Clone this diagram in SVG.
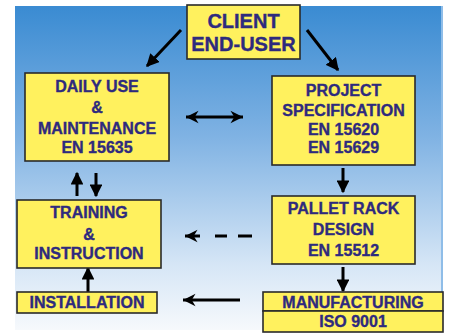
<svg xmlns="http://www.w3.org/2000/svg" width="449" height="334" viewBox="0 0 449 334">
<style>
.box{fill:#fff15e;stroke:#2a2a2a;stroke-width:1.6}
.t{font-family:"Liberation Sans",Arial,sans-serif;font-weight:bold;font-size:16px;fill:#2e2a7e;stroke:#2e2a7e;stroke-width:0.35;text-anchor:middle}
.big{font-size:20px}
.ln{stroke:#000;stroke-width:3;fill:none}
</style>
<defs>
<linearGradient id="bg" x1="0" y1="0" x2="0" y2="1">
<stop offset="0" stop-color="#3a8bd2"/>
<stop offset="0.4" stop-color="#7fb2e3"/>
<stop offset="0.8" stop-color="#d6e6f6"/>
<stop offset="1" stop-color="#f6f9fc"/>
</linearGradient>
<marker id="tri" viewBox="0 0 10 10" refX="9" refY="5" markerWidth="4.3" markerHeight="4.3" orient="auto" markerUnits="strokeWidth">
<path d="M0,0 L10,5 L0,10 z" fill="#000"/>
</marker>
<marker id="chev" viewBox="0 0 12 12" refX="11" refY="6" markerWidth="5" markerHeight="5" orient="auto-start-reverse" markerUnits="strokeWidth">
<path d="M1,1 L11,6 L1,11 L4,6 z" fill="#000"/>
</marker>
</defs>
<rect x="15" y="6" width="428" height="324" fill="url(#bg)"/>
<rect x="441" y="6" width="2" height="324" fill="#8fbde8"/>

<g id="connectors">
<line class="ln" x1="181" y1="30" x2="147" y2="66" marker-end="url(#tri)"/>
<line class="ln" x1="307" y1="30" x2="338" y2="70" marker-end="url(#tri)"/>
<line class="ln" x1="186" y1="117" x2="243" y2="117" marker-start="url(#chev)" marker-end="url(#chev)"/>
<line class="ln" x1="343" y1="168" x2="343" y2="192" marker-end="url(#tri)"/>
<line class="ln" x1="343" y1="267" x2="343" y2="291" marker-end="url(#tri)"/>
<line class="ln" x1="200" y1="236" x2="185" y2="236" marker-end="url(#chev)"/>
<line class="ln" x1="215" y1="236" x2="227" y2="236"/>
<line class="ln" x1="238" y1="236" x2="252" y2="236"/>
<line class="ln" x1="240" y1="300" x2="183" y2="300" marker-end="url(#chev)"/>
<line class="ln" x1="88" y1="292" x2="88" y2="268" marker-end="url(#tri)"/>
<line class="ln" x1="77" y1="196" x2="77" y2="173" marker-end="url(#tri)"/>
<line class="ln" x1="96" y1="173" x2="96" y2="196" marker-end="url(#tri)"/>
</g>

<g id="client">
<rect class="box" x="187" y="5" width="113" height="54"/>
<text class="t big" x="243.5" y="28">CLIENT</text>
<text class="t big" x="243.5" y="51">END-USER</text>
</g>
<g id="daily">
<rect class="box" x="25" y="73" width="144" height="88"/>
<text class="t" x="97" y="92">DAILY USE</text>
<text class="t" x="97" y="113">&amp;</text>
<text class="t" x="97" y="134">MAINTENANCE</text>
<text class="t" x="97" y="153">EN 15635</text>
</g>
<g id="project">
<rect class="box" x="272" y="76" width="143" height="89"/>
<text class="t" x="343.5" y="96">PROJECT</text>
<text class="t" x="343.5" y="116">SPECIFICATION</text>
<text class="t" x="343.5" y="135">EN 15620</text>
<text class="t" x="343.5" y="153">EN 15629</text>
</g>
<g id="training">
<rect class="box" x="17" y="200" width="144" height="68"/>
<text class="t" x="89" y="218">TRAINING</text>
<text class="t" x="89" y="240">&amp;</text>
<text class="t" x="89" y="259">INSTRUCTION</text>
</g>
<g id="pallet">
<rect class="box" x="272" y="196" width="143" height="68"/>
<text class="t" x="343.5" y="214">PALLET RACK</text>
<text class="t" x="343.5" y="235">DESIGN</text>
<text class="t" x="343.5" y="256">EN 15512</text>
</g>
<g id="installation">
<rect class="box" x="17" y="292" width="140" height="21"/>
<text class="t" x="87" y="308">INSTALLATION</text>
</g>
<g id="manufacturing">
<rect class="box" x="263" y="292" width="180" height="19"/>
<text class="t" x="353" y="308">MANUFACTURING</text>
</g>
<g id="iso">
<rect class="box" x="263" y="311" width="180" height="21"/>
<text class="t" x="353" y="327">ISO 9001</text>
</g>
</svg>
